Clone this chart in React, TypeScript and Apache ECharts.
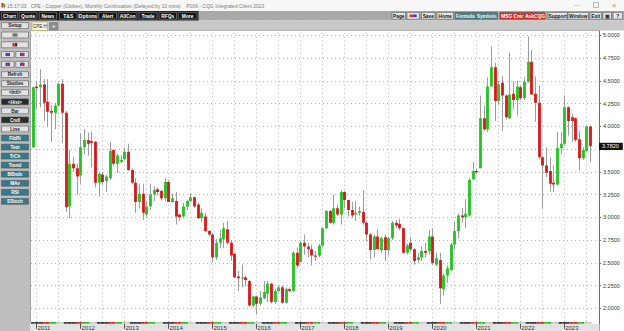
import React, { useEffect, useRef } from "react";
import * as echarts from "echarts";

const FONT = '"Liberation Sans", Arial, sans-serif';

// Monthly candles, each row = [open, high, low, close]
const ohlc2010 = [[3.77, 4.44, 3.76, 4.43]]; // Dec 2010 only
const ohlc2011 = [
  [4.44, 4.49, 4.19, 4.42], [4.43, 4.63, 4.21, 4.46], [4.46, 4.52, 4.06, 4.26], [4.27, 4.52, 3.99, 4.16],
  [4.17, 4.23, 3.83, 4.15], [4.15, 4.26, 3.97, 4.23], [4.23, 4.48, 4.22, 4.47], [4.47, 4.52, 3.82, 4.15],
  [4.15, 4.17, 3.06, 3.11], [3.12, 3.74, 2.99, 3.59], [3.59, 3.66, 3.5, 3.54], [3.54, 3.59, 3.25, 3.45],
];
const ohlc2012 = [
  [3.46, 3.92, 3.37, 3.77], [3.77, 3.97, 3.7, 3.85], [3.85, 3.93, 3.68, 3.81], [3.84, 3.94, 3.55, 3.82],
  [3.83, 3.84, 3.33, 3.38], [3.38, 3.5, 3.23, 3.48], [3.47, 3.5, 3.36, 3.39], [3.4, 3.47, 3.28, 3.45],
  [3.43, 3.83, 3.41, 3.73], [3.74, 3.75, 3.56, 3.59], [3.59, 3.7, 3.49, 3.68], [3.61, 3.68, 3.6, 3.63],
];
const ohlc2013 = [
  [3.64, 3.77, 3.63, 3.72], [3.72, 3.81, 3.51, 3.52], [3.52, 3.54, 3.37, 3.38], [3.38, 3.43, 3.05, 3.17],
  [3.17, 3.37, 3.1, 3.26], [3.26, 3.37, 2.97, 3.05], [3.03, 3.17, 3.01, 3.12], [3.12, 3.37, 3.08, 3.25],
  [3.25, 3.34, 3.18, 3.3], [3.31, 3.33, 3.24, 3.28], [3.29, 3.3, 3.19, 3.21], [3.21, 3.43, 3.18, 3.39],
];
const ohlc2014 = [
  [3.39, 3.41, 3.17, 3.17], [3.17, 3.26, 3.16, 3.21], [3.18, 3.28, 2.92, 3.01], [3.03, 3.04, 2.96, 3.0],
  [3.01, 3.16, 2.99, 3.12], [3.12, 3.19, 3.08, 3.18], [3.18, 3.26, 3.17, 3.22], [3.22, 3.23, 3.1, 3.12],
  [3.14, 3.16, 2.98, 2.99], [2.99, 3.1, 2.95, 3.05], [3.01, 3.05, 2.84, 2.85], [2.85, 2.86, 2.79, 2.81],
];
const ohlc2015 = [
  [2.81, 2.82, 2.5, 2.56], [2.56, 2.76, 2.53, 2.72], [2.72, 2.86, 2.66, 2.77], [2.76, 2.94, 2.66, 2.88],
  [2.87, 2.96, 2.7, 2.72], [2.72, 2.75, 2.52, 2.58], [2.6, 2.61, 2.33, 2.34], [2.35, 2.41, 2.19, 2.33],
  [2.33, 2.48, 2.23, 2.34], [2.34, 2.36, 2.24, 2.31], [2.3, 2.31, 2.02, 2.03], [2.03, 2.14, 2.01, 2.13],
];
const ohlc2016 = [
  [2.13, 2.14, 1.93, 2.05], [2.05, 2.19, 2.03, 2.12], [2.11, 2.3, 2.1, 2.18], [2.16, 2.3, 2.07, 2.27],
  [2.27, 2.28, 2.05, 2.07], [2.07, 2.21, 2.05, 2.19], [2.19, 2.25, 2.18, 2.23], [2.23, 2.25, 2.05, 2.06],
  [2.06, 2.23, 2.05, 2.21], [2.21, 2.23, 2.18, 2.19], [2.19, 2.63, 2.18, 2.61], [2.61, 2.67, 2.44, 2.47],
];
const ohlc2017 = [
  [2.51, 2.74, 2.5, 2.72], [2.72, 2.81, 2.59, 2.68], [2.68, 2.72, 2.56, 2.65], [2.65, 2.7, 2.47, 2.58],
  [2.58, 2.63, 2.52, 2.57], [2.58, 2.71, 2.56, 2.69], [2.69, 2.89, 2.67, 2.88], [2.88, 3.08, 2.87, 3.07],
  [3.07, 3.08, 2.93, 2.94], [2.94, 3.25, 2.92, 3.1], [3.1, 3.14, 3.01, 3.03], [3.03, 3.3, 2.92, 3.28],
];
const ohlc2018 = [
  [3.28, 3.29, 3.1, 3.19], [3.19, 3.19, 3.01, 3.08], [3.08, 3.17, 2.99, 3.02], [3.03, 3.18, 2.96, 3.05],
  [3.05, 3.12, 3.02, 3.07], [3.06, 3.3, 2.92, 2.94], [2.94, 2.96, 2.74, 2.81], [2.81, 2.83, 2.54, 2.64],
  [2.64, 2.81, 2.56, 2.79], [2.79, 2.87, 2.65, 2.65], [2.64, 2.79, 2.61, 2.77], [2.78, 2.81, 2.52, 2.64],
];
const ohlc2019 = [
  [2.64, 2.79, 2.58, 2.77], [2.77, 2.96, 2.75, 2.94], [2.94, 2.97, 2.88, 2.91], [2.93, 2.98, 2.86, 2.88],
  [2.88, 2.89, 2.6, 2.61], [2.61, 2.71, 2.59, 2.69], [2.72, 2.78, 2.63, 2.65], [2.65, 2.66, 2.48, 2.52],
  [2.53, 2.61, 2.5, 2.56], [2.56, 2.68, 2.52, 2.63], [2.63, 2.72, 2.56, 2.61], [2.63, 2.86, 2.59, 2.79],
];
const ohlc2020 = [
  [2.79, 2.88, 2.48, 2.5], [2.48, 2.61, 2.46, 2.55], [2.53, 2.61, 2.05, 2.22], [2.21, 2.38, 2.14, 2.36],
  [2.36, 2.47, 2.28, 2.44], [2.42, 2.72, 2.41, 2.7], [2.7, 2.95, 2.65, 2.85], [2.85, 3.04, 2.77, 3.02],
  [3.02, 3.1, 2.94, 3.0], [3.0, 3.2, 2.88, 3.04], [3.02, 3.43, 3.01, 3.41], [3.42, 3.61, 3.41, 3.51],
];
const ohlc2021 = [
  [3.51, 3.54, 3.48, 3.5], [3.54, 4.34, 3.54, 4.09], [4.09, 4.23, 3.95, 3.97], [3.97, 4.54, 3.94, 4.44],
  [4.44, 4.88, 4.44, 4.65], [4.65, 4.7, 4.06, 4.28], [4.28, 4.5, 4.24, 4.46], [4.48, 4.55, 3.95, 4.34],
  [4.34, 4.35, 4.08, 4.1], [4.09, 4.81, 4.08, 4.35], [4.36, 4.5, 4.19, 4.29], [4.29, 4.5, 4.12, 4.44],
];
const ohlc2022 = [
  [4.43, 4.45, 4.29, 4.31], [4.31, 4.54, 4.29, 4.49], [4.49, 4.99, 4.48, 4.71], [4.71, 4.84, 4.35, 4.35],
  [4.36, 4.55, 4.05, 4.26], [4.26, 4.45, 3.64, 3.66], [3.66, 3.68, 3.1, 3.57], [3.57, 3.77, 3.44, 3.49],
  [3.51, 3.66, 3.28, 3.37], [3.38, 3.57, 3.28, 3.36], [3.36, 3.94, 3.35, 3.76], [3.76, 3.94, 3.7, 3.81],
];
const ohlc2023 = [
  [3.81, 4.34, 3.8, 4.21], [4.21, 4.22, 3.9, 4.06], [4.1, 4.14, 3.83, 4.06], [4.09, 4.1, 3.83, 3.85],
  [3.86, 3.95, 3.52, 3.65], [3.65, 3.77, 3.63, 3.74], [3.73, 4.01, 3.72, 4.0], [4.0, 4.01, 3.61, 3.782],
];

const yearBlocks: { year: number; startMonth: number; rows: number[][] }[] = [
  { year: 2010, startMonth: 11, rows: ohlc2010 },
  { year: 2011, startMonth: 0, rows: ohlc2011 },
  { year: 2012, startMonth: 0, rows: ohlc2012 },
  { year: 2013, startMonth: 0, rows: ohlc2013 },
  { year: 2014, startMonth: 0, rows: ohlc2014 },
  { year: 2015, startMonth: 0, rows: ohlc2015 },
  { year: 2016, startMonth: 0, rows: ohlc2016 },
  { year: 2017, startMonth: 0, rows: ohlc2017 },
  { year: 2018, startMonth: 0, rows: ohlc2018 },
  { year: 2019, startMonth: 0, rows: ohlc2019 },
  { year: 2020, startMonth: 0, rows: ohlc2020 },
  { year: 2021, startMonth: 0, rows: ohlc2021 },
  { year: 2022, startMonth: 0, rows: ohlc2022 },
  { year: 2023, startMonth: 0, rows: ohlc2023 },
];

const monthNames = ["Jan", "Feb", "Mar", "Apr", "May", "Jun", "Jul", "Aug", "Sep", "Oct", "Nov", "Dec"];
const yMin = 1.75;
const yMax = 5.25;
const yStep = 0.25;
const lastPrice = 3.782;
const padMonths = 2;

const titleText =
  "15:17:03   CPE - Copper (Globex), Monthly Continuation (Delayed by 10 mins)    P006 - CQG Integrated Client 2023";
const leftTools = ["Chart", "Quote", "News", "T&S", "Options", "Alert", "AllCon", "Trade", "RFQs", "More"];
const sideTools = ["Refrsh", "Studies", "<Intl>", "<Hist>", "Bar", "Cndl", "Line", "FibRt", "Text", "TrCh", "Trend", "BBnds", "MAv", "RSI", "SStoch"];

const UP = "#22c322";
const DOWN = "#dc1616";

function buildCandles() {
  const cats: string[] = [];
  const rows: number[][] = [];
  yearBlocks.forEach((b) =>
    b.rows.forEach((r, k) => {
      const m = b.startMonth + k;
      cats.push(`${monthNames[m]} ${b.year}`);
      rows.push([rows.length, r[0], r[1], r[2], r[3], m]);
    })
  );
  for (let p = 0; p < padMonths; p++) cats.push(`pad${p}`);
  return { cats, rows };
}

function txt(x: number, y: number, text: string, fill: string, size: number, opts: any = {}) {
  const align = opts.align || "center";
  return {
    type: "text",
    z: opts.z || 102,
    silent: true,
    x,
    y,
    style: {
      text,
      fill,
      font: `${opts.bold === false ? "" : "bold "}${size}px ${FONT}`,
      textAlign: align,
      align,
      textVerticalAlign: "middle",
      verticalAlign: "middle",
    },
  };
}

function rect(x: number, y: number, w: number, h: number, fill: string, stroke?: string, z = 100) {
  return {
    type: "rect",
    z,
    silent: true,
    shape: { x, y, width: w, height: h },
    style: stroke ? { fill, stroke, lineWidth: 0.6 } : { fill },
  };
}

function button(x: number, y: number, w: number, h: number, label: string, fill: string, color: string, stroke = "#5a5a5a", size = 4.8) {
  return [rect(x, y, w, h, fill, stroke, 101), txt(x + w / 2, y + h / 2 + 0.2, label, color, size)];
}

function buildChrome() {
  const el: any[] = [];
  // title bar
  el.push(rect(0, 0, 624, 11, "#f7f7f7"));
  el.push(rect(1.5, 3, 2, 4.5, "#d33", undefined, 101));
  el.push(rect(3.6, 3.8, 1.6, 3.7, "#3a3", undefined, 101));
  el.push(txt(7, 5.6, titleText, "#7a7a7a", 5, { align: "left", bold: false }));
  el.push(txt(577, 5, "\u2014", "#9a9a9a", 6, { bold: false }));
  el.push({ type: "rect", z: 102, silent: true, shape: { x: 593.5, y: 2.5, width: 5, height: 5 }, style: { fill: "none", stroke: "#9a9a9a", lineWidth: 0.7 } });
  el.push(txt(614, 5, "\u00d7", "#9a9a9a", 8, { bold: false }));
  // toolbar row
  el.push(rect(0, 11, 624, 9.5, "#a9a9a9"));
  el.push(rect(0, 11, 198.5, 9.5, "#1b1b1b", undefined, 100.5));
  const lx = [1.5, 19.3, 39.3, 59.5, 78.7, 98.7, 118.3, 139, 159, 178.3];
  const lr = [17.5, 37, 56.5, 77, 97, 116.5, 137, 157, 176.5, 197];
  leftTools.forEach((t, i) => el.push(...button(lx[i], 12.4, lr[i] - lx[i], 6.8, t, "#151515", "#ffffff", "#8a8a8a", 4.9)));
  const right: [number, number, string, string, string][] = [
    [392, 405.5, "Page", "#e6e6e6", "#111"],
    [407, 419.5, "", "#e6e6e6", "#111"],
    [421.5, 435, "Save", "#e6e6e6", "#111"],
    [437, 453.5, "Home", "#e6e6e6", "#111"],
    [455, 475.5, "Formula", "#4d8088", "#eaf4f4"],
    [476, 497.5, "Symbols", "#4d8088", "#eaf4f4"],
    [500, 524.5, "MSG Cntr", "#e52a2a", "#ffffff"],
    [525, 545, "AskCQG", "#e52a2a", "#ffffff"],
    [548, 567.5, "Support", "#e6e6e6", "#111"],
    [568, 588.5, "Window", "#e6e6e6", "#111"],
    [590, 601.5, "Exit", "#e6e6e6", "#111"],
    [603, 611.5, "\u25a3", "#e6e6e6", "#333"],
    [613, 622.5, "?", "#e6e6e6", "#111"],
  ];
  right.forEach(([a, b, t, f, c]) => el.push(...button(a, 12.4, b - a, 6.8, t, f, c, "#555", 4.8)));
  el.push(rect(409.5, 14.5, 3.5, 2.6, "#d33", undefined, 102));
  el.push(rect(413.2, 14.5, 3.5, 2.6, "#33c", undefined, 102));
  // tab row
  el.push(rect(0, 20.5, 624, 10, "#c8c8c8"));
  el.push(rect(32, 22, 15.5, 8.5, "#f6f2dc", "#c39b3c", 101));
  el.push(txt(39.8, 26.4, "CPE.H", "#333", 4.5, { bold: false }));
  el.push(rect(49.5, 22.5, 8.5, 7.5, "#8c8c8c", "#777", 101));
  el.push(txt(53.75, 26.2, "+", "#fff", 6));
  // side bar
  el.push(rect(0, 20.5, 30.5, 311, "#bebebe"));
  el.push(...button(1.5, 22.6, 27, 6, "Setup", "#e2e2e2", "#222"));
  el.push(...button(1.5, 32, 27, 6, "", "#e2e2e2", "#222"));
  el.push(rect(12.5, 33.3, 5, 3.4, "#777", undefined, 102));
  el.push(...button(1.5, 41.8, 27, 6, "", "#e2e2e2", "#222"));
  el.push(rect(12.5, 43.1, 2.2, 3.4, "#c22", undefined, 102));
  el.push(rect(15, 43.1, 2.2, 3.4, "#333", undefined, 102));
  [51.5, 61.3].forEach((yy) => {
    el.push(...button(1.5, yy, 12.5, 6, "", "#e2e2e2", "#222"));
    el.push(...button(15.8, yy, 12.7, 6, "", "#e2e2e2", "#222"));
    el.push(rect(5.5, yy + 1.4, 4.5, 3.2, "#3344bb", undefined, 102));
    el.push(rect(7, yy + 2.2, 1.6, 1.6, "#d33", undefined, 103));
    el.push(rect(20, yy + 1.4, 4.5, 3.2, "#3344bb", undefined, 102));
    el.push(rect(21.8, yy + 1.4, 1.4, 3.2, "#d33", undefined, 103));
  });
  sideTools.forEach((t, k) => {
    const yy = 71.7 + 9.05 * k;
    let fill = "#e2e2e2";
    let col = "#222";
    if (t === "<Hist>" || t === "Cndl") {
      fill = "#2a2a2a";
      col = "#ffffff";
    } else if (k >= 7) {
      fill = "#36798c";
      col = "#ffffff";
    }
    el.push(...button(1.5, yy, 27, 5.9, t, fill, col, "#555", 4.6));
  });
  // plot borders
  el.push({ type: "line", z: 99, silent: true, shape: { x1: 30.5, y1: 30.5, x2: 30.5, y2: 322 }, style: { stroke: "#8a8a8a", lineWidth: 1 } });
  el.push({ type: "line", z: 99, silent: true, shape: { x1: 30.5, y1: 30.5, x2: 599.5, y2: 30.5 }, style: { stroke: "#9a9a9a", lineWidth: 1 } });
  // bottom time-label band
  el.push(rect(30.5, 324, 569, 7, "#e3e3e3"));
  return el;
}

function buildOption() {
  const { cats, rows } = buildCandles();
  const stripPattern = ["#3a3a3a", "#3a3a3a", "#3a3a3a", "#d42a2a", "#d42a2a", "#2fbf2f", "#2fbf2f", "#c9c9c9", "#c9c9c9"];
  const stripData = cats.map((_, i) =>
    i < rows.length ? { value: 1, itemStyle: { color: stripPattern[i % stripPattern.length] } } : { value: 0 }
  );
  const isJan = (_i: number, v: string) => typeof v === "string" && v.indexOf("Jan ") === 0;

  const renderItem = (params: any, api: any) => {
    const i = api.value(0);
    const o = api.value(1);
    const h = api.value(2);
    const l = api.value(3);
    const c = api.value(4);
    const m = api.value(5);
    const cs = params.coordSys;
    const po = api.coord([i, o]);
    const pc = api.coord([i, c]);
    const ph = api.coord([i, h]);
    const pl = api.coord([i, l]);
    const x = Math.round(po[0]) + 0.5;
    const children: any[] = [];
    if (m === 0 || m === 6) {
      children.push({
        type: "line",
        z2: 0,
        shape: { x1: x, y1: cs.y, x2: x, y2: cs.y + cs.height },
        style: { stroke: "#b4b4b4", lineWidth: 1, lineDash: [1, 3] },
      });
    }
    children.push({
      type: "line",
      z2: 5,
      shape: { x1: x, y1: ph[1], x2: x, y2: pl[1] },
      style: { stroke: "#9c9c9c", lineWidth: 1 },
    });
    const bw = 2.8;
    const top = Math.min(po[1], pc[1]);
    const hgt = Math.max(Math.abs(po[1] - pc[1]), 1.2);
    children.push({
      type: "rect",
      z2: 10,
      shape: { x: x - bw / 2, y: top, width: bw, height: hgt },
      style: { fill: c >= o ? UP : DOWN },
    });
    return { type: "group", children };
  };

  return {
    animation: false,
    backgroundColor: "#ffffff",
    textStyle: { fontFamily: FONT },
    grid: [
      { left: 31, right: 25, top: 12.75, height: 321.3 },
      { left: 31, right: 25, top: 322, height: 2 },
    ],
    xAxis: [
      {
        type: "category",
        gridIndex: 0,
        data: cats,
        boundaryGap: true,
        axisLine: { show: false },
        axisTick: { show: false },
        axisLabel: { show: false },
        splitLine: { show: false },
      },
      {
        type: "category",
        gridIndex: 1,
        data: cats,
        boundaryGap: true,
        z: 110,
        axisLine: { show: false },
        axisTick: { show: true, alignWithLabel: true, interval: isJan, length: 5, lineStyle: { color: "#555", width: 1 } },
        axisLabel: {
          show: true,
          interval: isJan,
          formatter: (v: string) => (v.indexOf("Jan ") === 0 ? v.slice(4) : ""),
          align: "left",
          margin: 1.2,
          fontSize: 6,
          color: "#333",
          padding: [0, 0, 0, 1],
          fontFamily: FONT,
        },
        splitLine: { show: false },
      },
    ],
    yAxis: [
      {
        type: "value",
        gridIndex: 0,
        position: "right",
        min: yMin,
        max: yMax,
        interval: yStep,
        axisLine: { show: true, lineStyle: { color: "#6d6d6d" } },
        axisTick: { show: true, length: 2, lineStyle: { color: "#6d6d6d" } },
        axisLabel: {
          showMinLabel: false,
          showMaxLabel: false,
          // the last-price tag sits over the neighbouring tick label
          formatter: (v: number) => (Math.abs(v - lastPrice) < 0.1 ? "" : v.toFixed(4)),
          fontSize: 5.5,
          color: "#333",
          margin: 4,
          fontFamily: FONT,
        },
        splitLine: { show: true, lineStyle: { color: "#b4b4b4", type: [1, 3], width: 1 } },
      },
      { type: "value", gridIndex: 1, min: 0, max: 1, show: false },
    ],
    series: [
      {
        type: "custom",
        name: "CPE",
        xAxisIndex: 0,
        yAxisIndex: 0,
        data: rows,
        encode: { x: 0, y: [1, 2, 3, 4] },
        renderItem,
        clip: true,
        silent: true,
        markLine: {
          silent: true,
          symbol: ["none", "none"],
          lineStyle: { color: "rgba(0,0,0,0)", width: 0, opacity: 1 },
          label: {
            show: true,
            position: "end",
            distance: 0,
            opacity: 1,
            formatter: lastPrice.toFixed(4),
            color: "#ffffff",
            backgroundColor: "#111111",
            fontSize: 5.5,
            fontFamily: FONT,
            padding: [0.6, 4, 0.6, 3],
          },
          data: [{ yAxis: lastPrice }],
        },
      },
      {
        type: "bar",
        xAxisIndex: 1,
        yAxisIndex: 1,
        data: stripData,
        barWidth: "100%",
        barCategoryGap: "0%",
        z: 110,
        silent: true,
      },
    ],
    graphic: { elements: buildChrome() },
  };
}

export default function App() {
  const ref = useRef<HTMLDivElement>(null);
  useEffect(() => {
    if (!ref.current) return;
    const chart = echarts.init(ref.current, undefined, { renderer: "svg" });
    chart.setOption(buildOption() as any);
    return () => chart.dispose();
  }, []);
  return (
    <div
      ref={ref}
      style={{ position: "absolute", left: 0, top: 0, width: 624, height: 331, background: "#ffffff" }}
    />
  );
}
